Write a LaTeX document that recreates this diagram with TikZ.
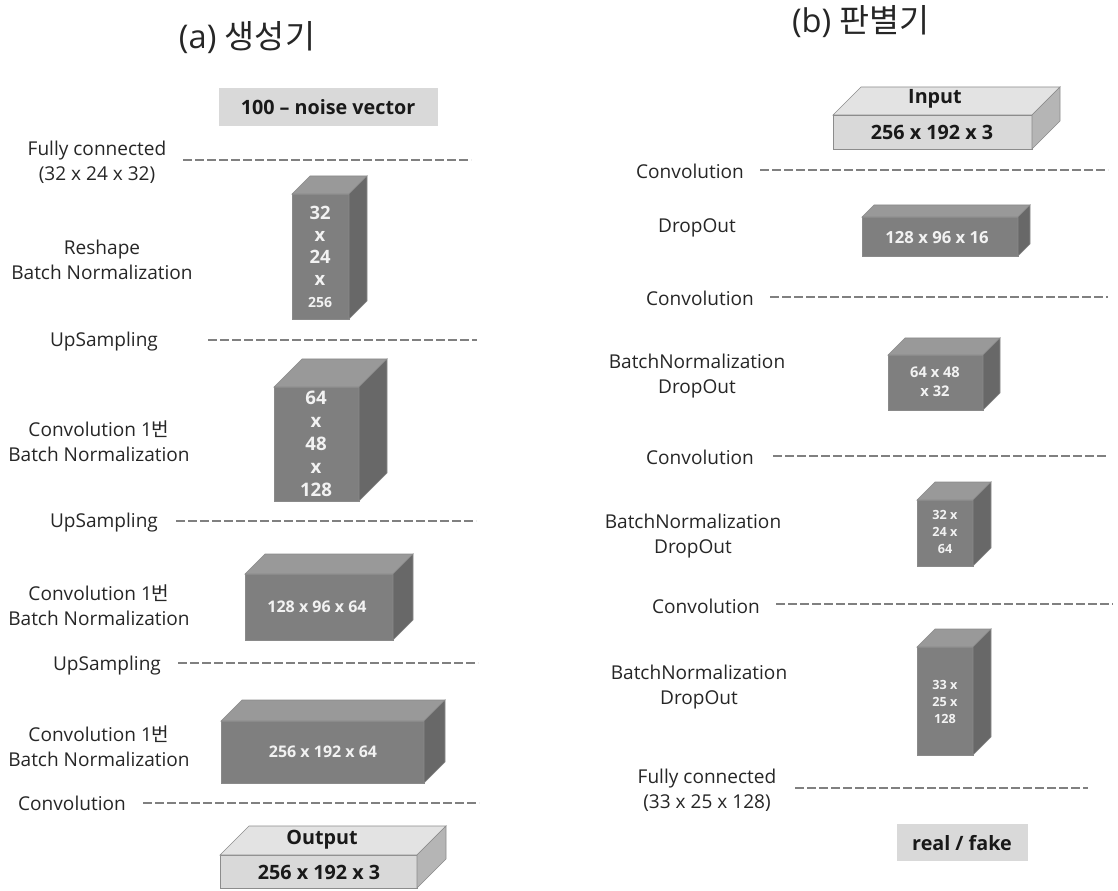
\documentclass[tikz,border=0pt]{standalone}
\usepackage{fontspec}
\setmainfont{Open Sans}
\newfontfamily\kr{Noto Sans CJK KR}

\definecolor{dkfront}{HTML}{7F7F7F}
\definecolor{dktop}{HTML}{999999}
\definecolor{dkside}{HTML}{686868}
\definecolor{dkedge}{HTML}{8A8A8A}
\definecolor{ltfront}{HTML}{D9D9D9}
\definecolor{lttop}{HTML}{E3E3E3}
\definecolor{ltside}{HTML}{B5B5B5}
\definecolor{ltedge}{HTML}{8C8C8C}
\definecolor{sepgray}{HTML}{808080}
\definecolor{txtgray}{HTML}{262626}

% #1,#2 = front top-left, #3,#4 = front bottom-right, #5 = depth, #6 = dk/lt
\newcommand{\layerbox}[6]{%
  \filldraw[draw=#6edge, fill=#6front] (#1,#2) rectangle (#3,#4);
  \filldraw[draw=#6edge, fill=#6top] (#1,#2) -- (#1+#5,#2-#5) -- (#3+#5,#2-#5) -- (#3,#2) -- cycle;
  \filldraw[draw=#6edge, fill=#6side] (#3,#2) -- (#3+#5,#2-#5) -- (#3+#5,#4-#5) -- (#3,#4) -- cycle;
}

\tikzset{
  lbl/.style={align=center, text=txtgray, font=\fontsize{14.3}{18.5}\selectfont},
  sep/.style={draw=sepgray, line width=2.1pt, dash pattern=on 6.75pt off 2.25pt},
  dim/.style={align=center, text=white!95!black, font=\bfseries\fontsize{12.5}{17}\selectfont},
  iotxt/.style={text=black!90, font=\bfseries\fontsize{14.8}{17}\selectfont},
  title/.style={text=txtgray, font=\fontsize{24.5}{28}\selectfont}
}

\begin{document}
\begin{tikzpicture}[x=0.75pt, y=-0.75pt, line width=0.5pt]
\useasboundingbox (0,0) rectangle (1118,891);

% titles
\node[title] (gtitle) at (247,38) {(a) {\kr 생성기}};
\node[title] (dtitle) at (861,22) {(b) {\kr 판별기}};

% ---------- generator ----------
\fill[ltfront] (219,88) rectangle (438,126);
\node[iotxt] (noise) at (328,107) {100 -- noise vector};

\node[lbl] (gfc) at (97,162) {Fully connected\\(32 x 24 x 32)};
\draw[sep] (183,160) -- (471,160);

\layerbox{292}{194}{349}{319}{18}{dk}
\node[dim, font=\bfseries\fontsize{13.8}{16.5}\selectfont] (g1) at (320,257) {32\\x\\24\\x\\{\fontsize{10.5}{12}\selectfont 256}};
\node[lbl] (greshape) at (102,260) {Reshape\\Batch Normalization};

\node[lbl] (gup1) at (104,342) {UpSampling};
\draw[sep] (208,340) -- (477,340);

\layerbox{274}{387}{359}{501}{28}{dk}
\node[dim, font=\bfseries\fontsize{14}{17.2}\selectfont] (g2) at (316,444) {64\\x\\48\\x\\128};
\node[lbl] (gconv1) at (99,441) {Convolution 1{\kr 번}\\Batch Normalization};

\node[lbl] (gup2) at (104,523) {UpSampling};
\draw[sep] (176,521) -- (476,521);

\layerbox{245}{574}{393}{640}{20}{dk}
\node[dim, font=\bfseries\fontsize{12}{15}\selectfont] (g3) at (317,607) {128 x 96 x 64};
\node[lbl] (gconv2) at (99,605) {Convolution 1{\kr 번}\\Batch Normalization};

\node[lbl] (gup3) at (107,666) {UpSampling};
\draw[sep] (178,663) -- (478,663);

\layerbox{221}{721}{424}{783}{21}{dk}
\node[dim, font=\bfseries\fontsize{12}{15}\selectfont] (g4) at (323,752) {256 x 192 x 64};
\node[lbl] (gconv3) at (99,746) {Convolution 1{\kr 번}\\Batch Normalization};

\node[lbl] (gconv) at (72,803) {Convolution};
\draw[sep] (143,803) -- (479,803);

\layerbox{220}{855}{417}{888}{29}{lt}
\node[iotxt] (outlbl) at (322,840) {Output};
\node[iotxt] (outdim) at (319,872) {256 x 192 x 3};

% ---------- discriminator ----------
\layerbox{833}{115}{1032}{149}{28}{lt}
\node[iotxt] (inlbl) at (935,99) {Input};
\node[iotxt] (indim) at (932,132) {256 x 192 x 3};

\node[lbl] (dconv1) at (690,171) {Convolution};
\draw[sep] (760,170) -- (1108,170);

\layerbox{862}{217}{1018}{256}{12}{dk}
\node[dim, font=\bfseries\fontsize{12.5}{15}\selectfont] (d1) at (937,238) {128 x 96 x 16};
\node[lbl] (ddrop1) at (697,228) {DropOut};

\node[lbl] (dconv2) at (700,298) {Convolution};
\draw[sep] (770,297) -- (1108,297);

\layerbox{888}{355}{983}{410}{17}{dk}
\node[dim, font=\bfseries\fontsize{11}{14}\selectfont] (d2) at (935,382) {64 x 48\\x 32};
\node[lbl] (dbn2) at (697,376) {BatchNormalization\\DropOut};

\node[lbl] (dconv3) at (700,457) {Convolution};
\draw[sep] (773,456) -- (1108,456);

\layerbox{917}{500}{973}{566}{18}{dk}
\node[dim, font=\bfseries\fontsize{9.5}{12.7}\selectfont] (d3) at (945,532) {32 x\\24 x\\64};
\node[lbl] (dbn3) at (693,536) {BatchNormalization\\DropOut};

\node[lbl] (dconv4) at (706,606) {Convolution};
\draw[sep] (776,604) -- (1113,604);

\layerbox{917}{647}{973}{755}{18}{dk}
\node[dim, font=\bfseries\fontsize{9.5}{12.5}\selectfont] (d4) at (945,702) {33 x\\25 x\\128};
\node[lbl] (dbn4) at (699,687) {BatchNormalization\\DropOut};

\node[lbl] (dfc) at (707,790) {Fully connected\\(33 x 25 x 128)};
\draw[sep] (795,788) -- (1088,788);

\fill[ltfront] (897,824) rectangle (1028,861);
\node[iotxt] (realfake) at (962,843) {real / fake};

\end{tikzpicture}
\end{document}
